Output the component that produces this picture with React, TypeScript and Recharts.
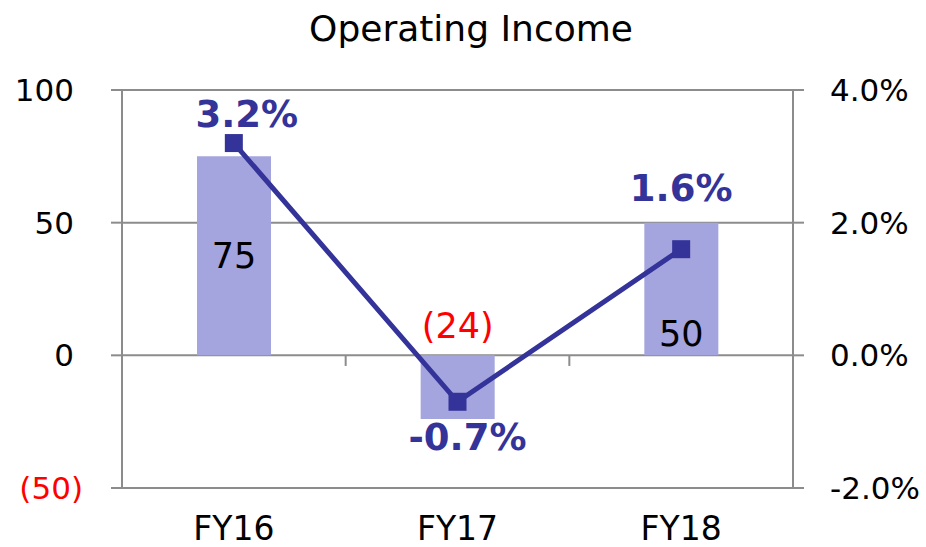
import { ComposedChart, Bar, Line, XAxis, YAxis, CartesianGrid, LabelList, ReferenceLine } from 'recharts';

const categories = ['FY16', 'FY17', 'FY18'];
const operatingIncome = [75, -24, 50];
const marginPct = [3.2, -0.7, 1.6];
const leftTicks = [-50, 0, 50, 100];
const rightTicks = [-2, 0, 2, 4];
// category boundaries on the zero line (in category units) get a small tick
const boundaries = [1, 2];

const data = categories.map((name, i) => ({
  name,
  slot: i + 0.5,
  income: operatingIncome[i],
  margin: marginPct[i],
}));

const FONT = '"DejaVu Sans", Verdana, sans-serif';
const AXIS = '#8c8c8c';
const BAR = '#a4a4de';
const LINE = '#333399';

// where Excel put the bar labels: centre, above the base, inside bottom
const barLabelPlace = ['center', 'above', 'bottom'];
// hand nudges of the % labels relative to their marker (dx, dy)
const pctNudge = [
  [13, -29],
  [10, 35],
  [0, -61],
];

const LeftTick = (props: any) => {
  const { x, y, payload } = props;
  const v = payload.value as number;
  return (
    <text x={x} y={y} dx={v < 0 ? 0 : -9} dy="0.355em" textAnchor="end" fontSize={31} fontFamily={FONT} fill={v < 0 ? '#ff0000' : '#000'}>
      {v < 0 ? `(${Math.abs(v)})` : v}
    </text>
  );
};

const RightTick = (props: any) => {
  const { x, y, payload } = props;
  return (
    <text x={x} y={y} dy="0.355em" textAnchor="start" fontSize={31} fontFamily={FONT} fill="#000">
      {`${(payload.value as number).toFixed(1)}%`}
    </text>
  );
};

const BarValue = (props: any) => {
  const { value, index } = props;
  const vb = props.viewBox ?? props;
  const { x, y, width, height } = vb;
  const top = Math.min(y, y + height);
  const bottom = Math.max(y, y + height);
  const cx = x + width / 2;
  const place = barLabelPlace[index];
  let ty = (top + bottom) / 2;
  if (place === 'bottom') ty = bottom - 22;
  if (place === 'above') ty = top - 30;
  const neg = value < 0;
  return (
    <text x={cx} y={ty} dy="0.355em" textAnchor="middle" fontSize={35} fontFamily={FONT} fill={neg ? '#ff0000' : '#000'}>
      {neg ? `(${Math.abs(value)})` : value}
    </text>
  );
};

const PctValue = (props: any) => {
  const { value, index } = props;
  const vb = props.viewBox ?? props;
  const [dx, dy] = pctNudge[index] ?? [0, -29];
  return (
    <text x={vb.x + dx} y={vb.y + dy} dy="0.355em" textAnchor="middle" fontSize={37} fontWeight="bold" fontFamily={FONT} fill={LINE}>
      {`${value.toFixed(1)}%`}
    </text>
  );
};

const SquareDot = (props: any) => {
  const { cx, cy } = props;
  return <rect x={cx - 9} y={cy - 9} width={18} height={18} fill={LINE} />;
};

export default function App() {
  return (
    <div style={{ position: 'absolute', left: 0, top: 0, width: 926, height: 547, background: '#fff' }}>
      <div
        style={{
          position: 'absolute',
          left: 0,
          top: 8,
          width: 942,
          textAlign: 'center',
          fontFamily: FONT,
          fontSize: 36,
          color: '#000',
        }}
      >
        Operating Income
      </div>
      <ComposedChart width={926} height={547} data={data} margin={{ top: 90, right: 0, bottom: 0, left: 0 }} barCategoryGap="33%">
        <CartesianGrid yAxisId="left" vertical={false} stroke={AXIS} strokeWidth={2} strokeDasharray="" />
        <XAxis
          dataKey="name"
          height={59}
          axisLine={false}
          tickLine={false}
          tickSize={0}
          tickMargin={29}
          tick={{ fontSize: 33, fontFamily: FONT, fill: '#000' }}
        />
        <XAxis xAxisId="band" dataKey="slot" type="number" domain={[0, categories.length]} hide allowDataOverflow />
        <YAxis
          yAxisId="left"
          width={122}
          domain={[-50, 100]}
          ticks={leftTicks}
          allowDataOverflow
          tickSize={11}
          tickMargin={28}
          axisLine={{ stroke: AXIS, strokeWidth: 2 }}
          tickLine={{ stroke: AXIS, strokeWidth: 2 }}
          tick={<LeftTick />}
        />
        <YAxis
          yAxisId="right"
          orientation="right"
          width={133}
          domain={[-2, 4]}
          ticks={rightTicks}
          allowDataOverflow
          tickSize={11}
          tickMargin={26}
          axisLine={{ stroke: AXIS, strokeWidth: 2 }}
          tickLine={{ stroke: AXIS, strokeWidth: 2 }}
          tick={<RightTick />}
        />
        {boundaries.map((b) => (
          <ReferenceLine
            key={b}
            xAxisId="band"
            yAxisId="left"
            segment={[
              { x: b, y: 0 },
              { x: b, y: -4 },
            ]}
            stroke={AXIS}
            strokeWidth={2}
            ifOverflow="visible"
          />
        ))}
        <Bar yAxisId="left" dataKey="income" fill={BAR} barSize={74} isAnimationActive={false}>
          <LabelList dataKey="income" content={<BarValue />} />
        </Bar>
        <Line
          yAxisId="right"
          dataKey="margin"
          type="linear"
          stroke={LINE}
          strokeWidth={5}
          dot={<SquareDot />}
          activeDot={false}
          isAnimationActive={false}
        >
          <LabelList dataKey="margin" content={<PctValue />} />
        </Line>
      </ComposedChart>
    </div>
  );
}
